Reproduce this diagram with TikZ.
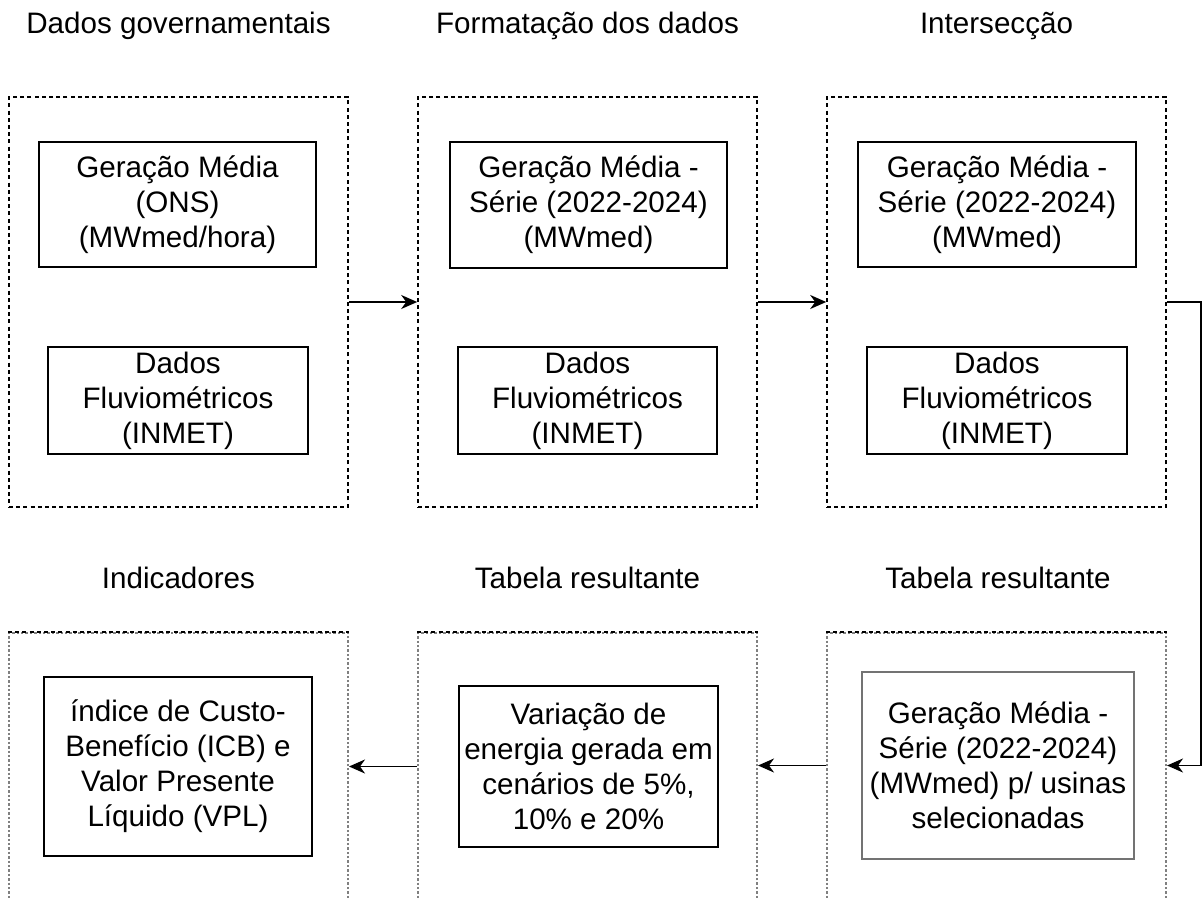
\documentclass[tikz,border=0pt]{standalone}
\usepackage{fontspec}
\setmainfont{Liberation Sans}
\usetikzlibrary{arrows.meta}

\tikzset{every picture/.style={line width=0.8pt, x=0.5pt, y=-0.5pt}}
\tikzset{group box/.style={draw, dash pattern=on 2pt off 1.6pt, line width=0.8pt, minimum width=169.5pt, minimum height=205pt, inner sep=0pt}}
\tikzset{open group/.style={group box, draw=black!50, line width=1pt, dash pattern=on 1.2pt off 1pt}}
\tikzset{data box/.style={draw, align=center, inner sep=2pt, font=\fontsize{14.8pt}{17.5pt}\selectfont}}
\tikzset{stage title/.style={font=\fontsize{14.8pt}{17.5pt}\selectfont, inner sep=0pt}}
\tikzset{flow/.style={-{Stealth[length=8pt, width=7pt, inset=2.5pt]}}}
\tikzset{box size/.style 2 args={minimum width=#1pt, minimum height=#2pt}}

\begin{document}
\begin{tikzpicture}
        \useasboundingbox (0,0) rectangle (1203,898);
        \clip (0,0) rectangle (1203,898);
        \node[stage title] (t1) at (178.5,26) {Dados governamentais};
        \node[stage title] (t2) at (587.5,26) {Formatação dos dados};
        \node[stage title] (t3) at (996.5,26) {Intersecção};
        \node[stage title] (t4) at (178.5,578) {Indicadores};
        \node[stage title] (t5) at (587.5,578) {Tabela resultante};
        \node[stage title] (t6) at (998,578) {Tabela resultante};
        \node[group box] (c1) at (178.5,302) {};
        \node[group box] (c2) at (587.5,302) {};
        \node[group box] (c3) at (996.5,302) {};
        \node[open group] (c4) at (178.5,838) {};
        \node[open group] (c5) at (587.5,838) {};
        \node[open group] (c6) at (996.5,838) {};
        \foreach \c in {c4,c5,c6}
            \draw[dash pattern=on 2pt off 1.6pt, line width=0.8pt] (\c.north west) -- (\c.north east);
        \node[data box, box size={138.5}{62.5}] (ons) at (177.5,204.5) {Geração Média\\(ONS)\\(MWmed/hora)};
        \node[data box, box size={130}{53.5}] (inmet1) at (178,400.5) {Dados\\Fluviométricos\\(INMET)};
        \node[data box, box size={138.5}{63}] (serie2) at (588.5,205) {Geração Média -\\Série (2022-2024)\\(MWmed)};
        \node[data box, box size={129.5}{53.5}] (inmet2) at (587.5,400.5) {Dados\\Fluviométricos\\(INMET)};
        \node[data box, box size={139}{62.5}] (serie3) at (997,204.5) {Geração Média -\\Série (2022-2024)\\(MWmed)};
        \node[data box, box size={130}{53.5}] (inmet3) at (997,400.5) {Dados\\Fluviométricos\\(INMET)};
        \node[data box, box size={134}{89.5}] (ind) at (178,766.5) {índice de Custo-\\Benefício (ICB) e\\Valor Presente\\Líquido (VPL)};
        \node[data box, inner sep=1pt, box size={129.5}{80.5}] (var) at (588.5,766.5) {Variação de\\energia gerada em\\cenários de 5\%,\\10\% e 20\%};
        \node[data box, inner sep=1pt, draw=black!55, line width=1.3pt, box size={136}{93.5}] (sel) at (998,765.5) {Geração Média -\\Série (2022-2024)\\(MWmed) p/ usinas\\selecionadas};
        \coordinate (turn) at (1201,302);
        \draw[flow] (c1.east) -- (c2.west);
        \draw[flow] (c2.east) -- (c3.west);
        \draw[flow] (c3.east) -- (turn) -- (turn |- sel) -- (c6.east |- sel);
        \draw[flow] (c6.west |- sel) -- (c5.east |- sel);
        \draw[flow] (c5.west |- var) -- (c4.east |- var);
    \end{tikzpicture}
\end{document}
